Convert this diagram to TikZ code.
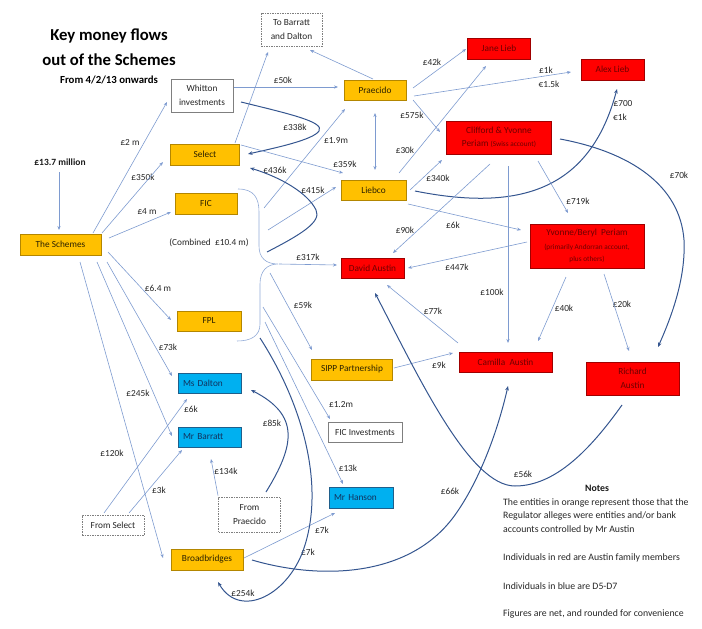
\documentclass[tikz,border=0pt]{standalone}
\usepackage{fontspec}
\setmainfont{Carlito}
\usetikzlibrary{calc,arrows.meta}
\definecolor{ofill}{HTML}{FFC000}
\definecolor{odraw}{HTML}{B38600}
\definecolor{otext}{HTML}{2B2100}
\definecolor{rfill}{HTML}{FF0000}
\definecolor{rdraw}{HTML}{A00000}
\definecolor{rtext}{HTML}{6E0000}
\definecolor{bfill}{HTML}{00B0F0}
\definecolor{bdraw}{HTML}{1F5F8B}
\definecolor{btext}{HTML}{12325E}
\definecolor{lline}{HTML}{7E9BD0}
\definecolor{dline}{HTML}{34558F}
\definecolor{gdraw}{HTML}{7F7F7F}
\begin{document}
\begin{tikzpicture}[x=1pt,y=-1pt,
  box/.style={rectangle, inner sep=0pt, align=center, font=\fontsize{9.3}{13.4}\selectfont, line width=0.6pt},
  obox/.style={box, draw=odraw, fill=ofill, text=otext},
  rbox/.style={box, draw=rdraw, fill=rfill, text=rtext},
  bbox/.style={box, draw=bdraw, fill=bfill, text=btext, align=left, inner xsep=5pt},
  wbox/.style={box, draw=gdraw, fill=white, text=black!85},
  dbox/.style={box, draw=gdraw, dash pattern=on 1.5pt off 1pt, fill=white, text=black!85},
  lbl/.style={font=\fontsize{9.3}{11}\selectfont, inner sep=0pt, text=black!85},
  lblb/.style={font=\fontsize{9.5}{11}\selectfont\bfseries, inner sep=0pt, text=black!90},
  note/.style={font=\fontsize{9.8}{12}\selectfont, inner sep=0pt, text=black!85, anchor=west},
  ln/.style={draw=lline, line width=0.6pt, -{Stealth[length=4pt,width=3.2pt]}},
  dk/.style={draw=dline, line width=1pt, -{Stealth[length=4.5pt,width=3.6pt]}},
]
\useasboundingbox (0,0) rectangle (702,629);
% title
\node[font=\fontsize{16.7}{20}\selectfont\bfseries, inner sep=0pt] (t1) at (109,36) {Key money flows};
\node[font=\fontsize{16.7}{20}\selectfont\bfseries, inner sep=0pt] (t2) at (109,60) {out of the Schemes};
\node[font=\fontsize{10.8}{13}\selectfont\bfseries, inner sep=0pt] (t3) at (109,80) {From 4/2/13 onwards};
% nodes
\node[obox, minimum width=81pt, minimum height=21pt] (schemes) at (60.5,244.5) {The Schemes};
\node[wbox, minimum width=62pt, minimum height=33pt] (whitton) at (202,95.5) {Whitton\\investments};
\node[obox, minimum width=69pt, minimum height=21pt] (select) at (205,154.5) {Select};
\node[obox, minimum width=62pt, minimum height=21pt] (fic) at (206,203.5) {FIC};
\node[obox, minimum width=64pt, minimum height=20pt] (fpl) at (209,321) {FPL};
\node[bbox, text width=53pt, minimum height=20pt] (dalton) at (209.5,383) {Ms Dalton};
\node[bbox, text width=53pt, minimum height=20pt] (barratt) at (209.5,437) {Mr Barratt};
\node[dbox, minimum width=62pt, minimum height=20pt] (fromsel) at (113,525) {From Select};
\node[dbox, minimum width=62pt, minimum height=35pt] (fromprae) at (249.5,514.5) {From\\Praecido};
\node[obox, minimum width=72pt, minimum height=21pt] (broad) at (207,559.5) {Broadbridges};
\node[dbox, minimum width=61pt, minimum height=33pt] (tobd) at (291.5,29.5) {To Barratt\\and Dalton};
\node[obox, minimum width=62pt, minimum height=20pt] (praecido) at (375,90.5) {Praecido};
\node[obox, minimum width=65pt, minimum height=20pt] (liebco) at (373.5,190) {Liebco};
\node[rbox, minimum width=63pt, minimum height=21pt] (jane) at (499,48.5) {Jane Lieb};
\node[rbox, minimum width=63pt, minimum height=21pt] (alex) at (612.5,69.5) {Alex Lieb};
\node[rbox, minimum width=105pt, minimum height=33pt] (clifford) at (499,137.5) {Clifford \& Yvonne\\Periam {\fontsize{7.3}{9}\selectfont(Swiss account)}};
\node[rbox, minimum width=114pt, minimum height=44pt] (yb) at (587,246) {Yvonne/Beryl\ \ Periam\\{\fontsize{7.3}{9}\selectfont(primarily Andorran account,}\\[-1.5pt]{\fontsize{7.3}{9}\selectfont plus others)}};
\node[rbox, minimum width=63pt, minimum height=20pt] (david) at (372.5,268) {David Austin};
\node[obox, minimum width=81pt, minimum height=21pt] (sipp) at (352,369.5) {SIPP Partnership};
\node[rbox, minimum width=93pt, minimum height=20pt] (camilla) at (505.5,362) {Camilla\ \ Austin};
\node[rbox, minimum width=93pt, minimum height=33pt] (richard) at (632.5,378.5) {Richard\\Austin};
\node[wbox, minimum width=74pt, minimum height=20pt] (ficinv) at (365,432.5) {FIC Investments};
\node[bbox, text width=54pt, minimum height=21pt] (hanson) at (361,498) {Mr Hanson};
% bracket
\draw[draw=lline!85, line width=0.6pt] (238,189) .. controls (254,189) and (259,198) .. (259,212) -- (259,246) .. controls (259,258) and (266,264) .. (278,264) .. controls (267,264) and (260,271) .. (260,284) -- (260,324) .. controls (260,336) and (251,341) .. (237,341);
\coordinate (bpt) at (279,264);
\coordinate (b19) at (264,208);
\coordinate (b415) at (268,230);
\coordinate (b436) at (267,252);
\coordinate (b59) at (270,273);
\coordinate (b12) at (263,307);
\coordinate (b13) at (265,322);
\coordinate (b254) at (260,338);
% labels
\node[lblb] (l137) at (60,162) {£13.7 million};
\node[lbl] (l2m) at (130,142) {£2 m};
\node[lbl] (l350) at (143,177) {£350k};
\node[lbl] (l4m) at (147,212) {£4 m};
\node[lbl] (l64) at (158,288) {£6.4 m};
\node[lbl] (l73) at (168,347) {£73k};
\node[lbl] (l245) at (138,393) {£245k};
\node[lbl] (l120) at (112,453) {£120k};
\node[lbl] (l6a) at (191,409) {£6k};
\node[lbl] (l3) at (159,490) {£3k};
\node[lbl] (l134) at (226,471) {£134k};
\node[lbl] (l85) at (272,423) {£85k};
\node[lbl] (l254) at (243,593) {£254k};
\node[lbl] (l7a) at (322,530) {£7k};
\node[lbl] (l7b) at (308,552) {£7k};
\node[lbl] (l12) at (341,405) {£1.2m};
\node[lbl] (l13) at (348,468) {£13k};
\node[lbl] (l66) at (450,491) {£66k};
\node[lbl] (l338) at (295,127) {£338k};
\node[lbl] (l19) at (336,141) {£1.9m};
\node[lbl] (l436) at (275,170) {£436k};
\node[lbl] (l359) at (345,164) {£359k};
\node[lbl] (l415) at (313,190) {£415k};
\node[lbl] (l50) at (283,80) {£50k};
\node[lbl] (l42) at (432,62) {£42k};
\node[lbl] (l575) at (412,115) {£575k};
\node[lbl] (l30) at (405,150) {£30k};
\node[lbl] (l340) at (438,178) {£340k};
\node[lbl] (l1k) at (546,70) {£1k};
\node[lbl] (l15k) at (549,84) {€1.5k};
\node[lbl] (l700) at (623,104) {£700};
\node[lbl] (le1k) at (620,117) {€1k};
\node[lbl] (l90) at (405,230) {£90k};
\node[lbl] (l6b) at (453,225) {£6k};
\node[lbl] (l447) at (457,267) {£447k};
\node[lbl] (l317) at (308,257) {£317k};
\node[lbl] (l59) at (303,305) {£59k};
\node[lbl] (l77) at (433,311) {£77k};
\node[lbl] (l9) at (439,365) {£9k};
\node[lbl] (l100) at (492,292) {£100k};
\node[lbl] (l40) at (564,308) {£40k};
\node[lbl] (l20) at (622,304) {£20k};
\node[lbl] (l719) at (578,201) {£719k};
\node[lbl] (l70) at (679,175) {£70k};
\node[lbl] (l56) at (523,474) {£56k};
\node[lbl] (lcomb) at (209,243) {(Combined\ \ £10.4 m)};
% notes
\node[lblb, font=\fontsize{9.8}{12}\selectfont\bfseries] (notes) at (597,488) {Notes};
\node[note] (n1) at (503,502.5) {The entities in orange represent those that the};
\node[note] (n2) at (503,516) {Regulator alleges\ were entities and/or bank};
\node[note] (n3) at (503,530) {accounts controlled by Mr Austin};
\node[note] (n4) at (503,558) {Individuals in red are Austin family members};
\node[note] (n5) at (503,586) {Individuals in blue are D5-D7};
\node[note] (n6) at (503,614) {Figures are net, and rounded for convenience};
% connectors
\draw[ln] ($(l137)+(-1,10)$) -- ($(schemes)+(-1.5,-14.5)$);
\draw[ln] ($(schemes)+(32.5,-11.5)$) -- ($(whitton)+(-35,6.5)$);
\draw[ln] ($(schemes)+(41.5,-11.5)$) -- ($(select)+(-42,7.5)$);
\draw[ln] ($(schemes)+(48.5,-6.5)$) -- ($(fic)+(-35,8.5)$);
\draw[ln] ($(schemes)+(47.5,7.5)$) -- ($(fpl)+(-38,-1)$);
\draw[ln] ($(schemes)+(46.5,17.5)$) -- ($(dalton)+(-37.5,-7)$);
\draw[ln] ($(schemes)+(36.5,17.5)$) -- ($(barratt)+(-37.5,-1)$);
\draw[ln] ($(schemes)+(19.5,17.5)$) -- ($(broad)+(-44,-1.5)$);
\draw[ln] ($(fromsel)+(-9,-12)$) -- ($(dalton)+(-22.5,16)$);
\draw[ln] ($(fromsel)+(16,-12)$) -- ($(barratt)+(-27.5,13)$);
\draw[ln] ($(fromprae)+(-31.5,-19)$) -- ($(barratt)+(1.5,22)$);
\draw[dk] ($(fromprae)+(16.5,-22.5)$) .. controls (295,445) and (300,415) .. ($(dalton)+(41.5,7)$);
\draw[ln] ($(select)+(30,-11.5)$) -- ($(tobd)+(-23.5,22.5)$);
\draw[ln] ($(praecido)+(-2,-11.5)$) -- ($(tobd)+(18.5,20.5)$);
\draw[ln] ($(whitton)+(32,-8.5)$) -- ($(praecido)+(-37,-3.5)$);
\draw[dk] ($(whitton)+(39,6.5)$) .. controls (290,114) and (325,122) .. (319,131) .. controls (313,140) and (275,148) .. ($(select)+(43,-0.5)$);
\draw[ln] ($(select)+(36,-9.5)$) -- ($(liebco)+(-30.5,-17)$);
\draw[ln, {Stealth[length=4pt,width=3.2pt]}-{Stealth[length=4pt,width=3.2pt]}] ($(praecido)+(0,22.5)$) -- ($(liebco)+(1.5,-20)$);
\draw[ln] ($(praecido)+(38,-2.5)$) -- ($(jane)+(-33,0.5)$);
\draw[ln] ($(praecido)+(39,5.5)$) -- ($(alex)+(-41.5,2.5)$);
\draw[ln] ($(praecido)+(38,9.5)$) -- ($(clifford)+(-59,-5.5)$);
\draw[ln] ($(liebco)+(25.5,-17)$) -- ($(jane)+(-13,17.5)$);
\draw[ln] ($(liebco)+(36.5,0)$) -- ($(clifford)+(-57,22.5)$);
\draw[dk] ($(liebco)+(41.5,1)$) .. controls (520,212) and (590,190) .. ($(alex)+(4.5,19.5)$);
\draw[ln] ($(liebco)+(34.5,14)$) -- ($(yb)+(-66,-16)$);
\draw[ln] ($(clifford)+(-9,26.5)$) -- ($(david)+(20.5,-15)$);
\draw[ln] ($(clifford)+(9,28.5)$) -- ($(camilla)+(2.5,-19)$);
\draw[ln] ($(clifford)+(39,23.5)$) -- ($(yb)+(-19,-33)$);
\draw[dk] ($(clifford)+(61,1.5)$) .. controls (630,152) and (680,185) .. (684,240) .. controls (686,280) and (670,320) .. ($(richard)+(25.5,-31.5)$);
\draw[ln] ($(yb)+(-60,-4)$) -- ($(david)+(35.5,0)$);
\draw[ln] ($(yb)+(-21,31)$) -- ($(camilla)+(32.5,-21)$);
\draw[ln] ($(yb)+(17,28)$) -- ($(richard)+(-3.5,-27.5)$);
\draw[ln] ($(camilla)+(-47.5,-19)$) -- ($(david)+(14.5,17)$);
\draw[ln] ($(sipp)+(42,-1.5)$) -- ($(camilla)+(-52.5,-9)$);
\draw[ln] ($(broad)+(37,-1.5)$) -- ($(hanson)+(-26,15)$);
\draw[dk] ($(broad)+(45,0.5)$) .. controls (320,580) and (410,578) .. (455,515) .. controls (480,480) and (498,430) .. ($(camilla)+(2.5,24)$);
\draw[dk] ($(richard)+(-10.5,26.5)$) .. controls (590,450) and (555,486) .. (515,486) .. controls (470,486) and (420,380) .. ($(david)+(2.5,25)$);
\draw[ln] (bpt) -- ($(david)+(-35.5,-3)$);
\draw[ln] (b59) -- ($(sipp)+(-40,-19.5)$);
\draw[ln] (b12) -- ($(ficinv)+(-35,-13.5)$);
\draw[ln] (b13) -- ($(hanson)+(-18,-14)$);
\draw[dk] (b254) .. controls (300,400) and (325,480) .. (305,545) .. controls (290,595) and (240,620) .. ($(broad)+(11,22.5)$);
\draw[ln] (b19) -- ($(praecido)+(-30,18.5)$);
\draw[ln] (b415) -- ($(liebco)+(-37.5,-3)$);
\draw[dk] (b436) .. controls (300,235) and (322,222) .. (316,210) .. controls (308,193) and (280,177) .. ($(select)+(45,13.5)$);
\end{tikzpicture}
\end{document}
